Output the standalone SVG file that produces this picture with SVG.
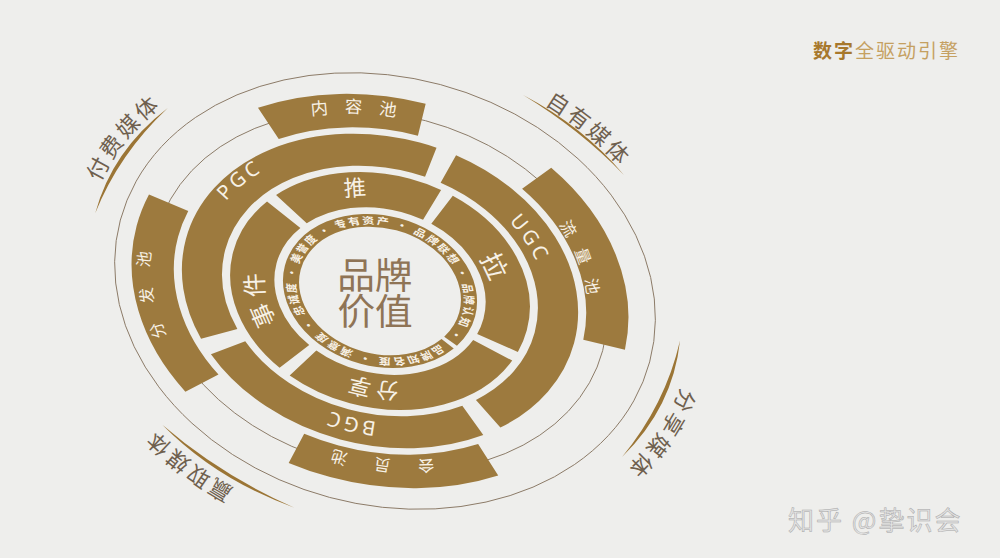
<svg xmlns="http://www.w3.org/2000/svg" width="1000" height="558" viewBox="0 0 1000 558">
<style>
.seg{fill:none;stroke:#9d7a3e}
.thin{fill:none;stroke:#8c7b68;stroke-width:1}
.lbl{fill:#f7f1e6;font-family:"Noto Sans CJK SC","Noto Sans",sans-serif}
.lat{fill:#f7f1e6;font-family:"Noto Sans","Liberation Sans",sans-serif}
.media{fill:#6f604e;font-family:"Noto Sans CJK SC",sans-serif;font-size:22px;letter-spacing:3px}
.arc{fill:#9b7535}
</style>
<defs>
<path id="p-nrc" d="M222.5,155.8 A223,173.9 15 0 1 502.9,154"/>
<path id="p-llc" d="M500.7,167.3 A207.5,161.9 15 0 1 571.5,377.5"/>
<path id="p-hyc" d="M522.9,430.6 A211.8,165.2 15 0 1 254.3,408.5"/>
<path id="p-ffc" d="M228.9,405.7 A228.5,178.2 15 0 1 197.6,171.7"/>
<path id="p-pgc" d="M208.4,277.7 A179,139.6 15 0 1 348.9,148.9"/>
<path id="p-ugc" d="M450.1,177.1 A166,129.5 15 0 1 544.3,337.4"/>
<path id="p-bgc" d="M467.4,412.7 A166,129.5 15 0 1 259.9,363.1"/>
<path id="p-tui" d="M290.2,225.3 A119.5,93.2 15 0 1 437.6,211.8"/>
<path id="p-la" d="M443.2,221.1 A112.5,87.75 15 0 1 488.2,334.1"/>
<path id="p-fx" d="M454.4,369.9 A115,89.7 15 0 1 308.6,350.5"/>
<path id="p-sj" d="M310.7,353.2 A116,90.5 15 0 1 286.4,234.6"/>
<path id="p-ff" d="M95,329.3 A306,238.7 15 0 1 300.8,50.3"/>
<path id="p-zy" d="M385,51.5 A303,236.3 15 0 1 684,321.1"/>
<path id="p-fxm" d="M675,237.5 A312,243.4 15 0 1 488.2,533.7"/>
<path id="p-yq" d="M401.5,537.3 A310,241.8 15 0 1 79.5,273.5"/>
<path id="p-r0" d="M72.75,42 A84,84 0 1 1 -72.75,-42 A84,84 0 1 1 72.75,42"/>
</defs>
<rect width="1000" height="558" fill="#eeeeec"/>

<g id="guides" transform="translate(385 291) rotate(15) scale(1 0.78)">
<circle class="thin" r="274" vector-effect="non-scaling-stroke"/>
<path class="arc" d="M-300,0 A300,300 0 0 1 -257.2,-154.5 A450,450 0 0 0 -300,0 Z"/>
<path class="arc" d="M82.7,-288.4 A300,300 0 0 1 200.7,-222.9 A450,450 0 0 0 82.7,-288.4 Z"/>
<path class="arc" d="M297.8,-36.6 A300,300 0 0 1 271.9,126.8 A450,450 0 0 0 297.8,-36.6 Z"/>
<path class="arc" d="M-31.4,298.4 A300,300 0 0 1 -180.5,239.6 A450,450 0 0 0 -31.4,298.4 Z"/>
</g>

<g id="media-labels">
<text class="media"><textPath href="#p-ff" startOffset="50%" text-anchor="middle">付费媒体</textPath></text>
<text class="media"><textPath href="#p-zy" startOffset="50%" text-anchor="middle">自有媒体</textPath></text>
<text class="media"><textPath href="#p-fxm" startOffset="50%" text-anchor="middle">分享媒体</textPath></text>
<text class="media"><textPath href="#p-yq" startOffset="50%" text-anchor="middle">赢取媒体</textPath></text>
</g>

<g id="diagram" transform="matrix(1.01866 0.005 0.005 1.00134 -13.64 -2.32)">
<g id="mid-guide" transform="translate(385 291) rotate(15) scale(1 0.78)">
<circle class="thin" r="226" vector-effect="non-scaling-stroke"/>
</g>

<g id="node-neirongchi">
<circle class="seg" transform="translate(385 291) rotate(15) scale(1 0.78)" r="226" stroke-width="42" pathLength="360" stroke-dasharray="40 320" stroke-dashoffset="-229"/>
<text class="lbl" font-size="17" letter-spacing="16"><textPath href="#p-nrc" startOffset="52%" text-anchor="middle">内容池</textPath></text>
</g>
<g id="node-liuliangchi">
<circle class="seg" transform="translate(385 291) rotate(15) scale(1 0.78)" r="226" stroke-width="42" pathLength="360" stroke-dasharray="56 304" stroke-dashoffset="-302"/>
<text class="lbl" font-size="16" letter-spacing="14"><textPath href="#p-llc" startOffset="52%" text-anchor="middle">流量池</textPath></text>
</g>
<g id="node-huiyuanchi">
<circle class="seg" transform="translate(385 291) rotate(15) scale(1 0.78)" r="226" stroke-width="42" pathLength="360" stroke-dasharray="50 310" stroke-dashoffset="-50"/>
<text class="lbl" font-size="16" letter-spacing="26"><textPath href="#p-hyc" startOffset="54%" text-anchor="middle">会员池</textPath></text>
</g>
<g id="node-fenfachi">
<circle class="seg" transform="translate(385 291) rotate(15) scale(1 0.78)" r="226" stroke-width="42" pathLength="360" stroke-dasharray="60 300" stroke-dashoffset="-130"/>
<text class="lbl" font-size="16" letter-spacing="19"><textPath href="#p-ffc" startOffset="53%" text-anchor="middle">分发池</textPath></text>
</g>

<g id="node-pgc">
<circle class="seg" transform="translate(385 291) rotate(15) scale(1 0.78)" r="177" stroke-width="40" pathLength="360" stroke-dasharray="132 228" stroke-dashoffset="-143"/>
<text class="lat" font-size="20" letter-spacing="3"><textPath href="#p-pgc" startOffset="50%" text-anchor="middle">PGC</textPath></text>
</g>
<g id="node-ugc">
<circle class="seg" transform="translate(385 291) rotate(15) scale(1 0.78)" r="177" stroke-width="40" pathLength="360" stroke-dasharray="120 240" stroke-dashoffset="-281"/>
<text class="lat" font-size="20" letter-spacing="3"><textPath href="#p-ugc" startOffset="50%" text-anchor="middle">UGC</textPath></text>
</g>
<g id="node-bgc">
<circle class="seg" transform="translate(385 291) rotate(15) scale(1 0.78)" r="177" stroke-width="40" pathLength="360" stroke-dasharray="90 270" stroke-dashoffset="-47"/>
<text class="lat" font-size="20" letter-spacing="3"><textPath href="#p-bgc" startOffset="50%" text-anchor="middle">BGC</textPath></text>
</g>

<g id="node-tui">
<circle class="seg" transform="translate(385 291) rotate(15) scale(1 0.78)" r="127" stroke-width="44" pathLength="360" stroke-dasharray="68 292" stroke-dashoffset="-214.5"/>
<text class="lbl" font-size="22"><textPath href="#p-tui" startOffset="50%" text-anchor="middle">推</textPath></text>
</g>
<g id="node-la">
<circle class="seg" transform="translate(385 291) rotate(15) scale(1 0.78)" r="127" stroke-width="44" pathLength="360" stroke-dasharray="84 276" stroke-dashoffset="-287.5"/>
<text class="lbl" font-size="26"><textPath href="#p-la" startOffset="50%" text-anchor="middle">拉</textPath></text>
</g>
<g id="node-fenxiang">
<circle class="seg" transform="translate(385 291) rotate(15) scale(1 0.78)" r="127" stroke-width="44" pathLength="360" stroke-dasharray="99 261" stroke-dashoffset="-16.5"/>
<text class="lbl" font-size="22" letter-spacing="4"><textPath href="#p-fx" startOffset="51%" text-anchor="middle">分享</textPath></text>
</g>
<g id="node-shijian">
<circle class="seg" transform="translate(385 291) rotate(15) scale(1 0.78)" r="127" stroke-width="44" pathLength="360" stroke-dasharray="89 271" stroke-dashoffset="-120.5"/>
<text class="lbl" font-size="24" letter-spacing="4"><textPath href="#p-sj" startOffset="51%" text-anchor="middle">事件</textPath></text>
</g>

<g id="node-core">
<g transform="translate(385 291) rotate(15) scale(1 0.78)">
<circle class="seg" r="88.5" stroke-width="16" pathLength="360" stroke-dasharray="357 3" stroke-dashoffset="-29"/>
<text class="lbl" font-size="12" font-weight="bold"><textPath href="#p-r0" startOffset="1%" textLength="512" lengthAdjust="spacing">品牌知名度 · 满意度 · 忠诚度 · 美誉度 · 专有资产 · 品牌联想 · 品牌认知 ·</textPath></text>
</g>
<text x="380" y="289" font-family="Noto Sans CJK SC, sans-serif" font-size="37" fill="#8f7456" text-anchor="middle">品牌</text>
<text x="380" y="325" font-family="Noto Sans CJK SC, sans-serif" font-size="37" fill="#8f7456" text-anchor="middle">价值</text>
</g>
</g>

<g id="title">
<text x="813" y="58" font-family="Noto Sans CJK SC, sans-serif" font-size="19" letter-spacing="2"><tspan font-weight="bold" fill="#a7782c">数字</tspan><tspan fill="#c5a061">全驱动引擎</tspan></text>
</g>
<g id="watermark">
<text x="788" y="530" font-family="Noto Sans CJK SC, sans-serif" font-size="26" letter-spacing="2" fill="#e3e3e3" stroke="#a8a8a8" stroke-width="0.5">知乎 @挚识会</text>
</g>
</svg>
